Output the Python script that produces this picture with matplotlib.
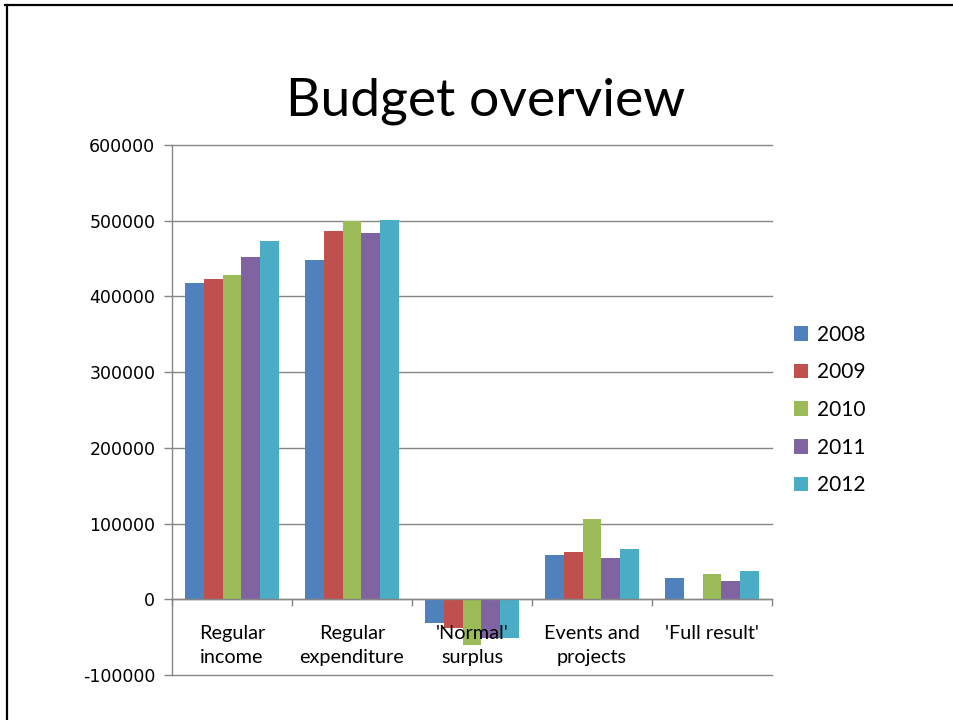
import numpy as np
import matplotlib
matplotlib.use("Agg")
from matplotlib import pyplot as plt
from matplotlib.lines import Line2D
from matplotlib.transforms import offset_copy

plt.rcParams["axes.unicode_minus"] = False

categories = ["Regular\nincome", "Regular\nexpenditure", "'Normal'\nsurplus",
              "Events and\nprojects", "'Full result'"]
years = ["2008", "2009", "2010", "2011", "2012"]
v2008 = [418000, 448000, -31000, 58000, 28000]
v2009 = [423000, 486000, -38000, 63000, 0]
v2010 = [428000, 500000, -60000, 106000, 34000]
v2011 = [452000, 484000, -51000, 55000, 24000]
v2012 = [473000, 501000, -51000, 66000, 38000]
series = [v2008, v2009, v2010, v2011, v2012]
colors = ["#4F81BD", "#C0504D", "#9BBB59", "#8064A2", "#4BACC6"]

fig = plt.figure(figsize=(9.54, 7.2), dpi=100)
ax = fig.add_axes([172 / 954, 1 - 675 / 720, 600 / 954, 530 / 720])

x = np.arange(len(categories))
w = 0.158
for i, (vals, c, lab) in enumerate(zip(series, colors, years)):
    ax.bar(x + (i - 2) * w, vals, width=w, color=c, label=lab, zorder=3)

ax.set_xlim(-0.5, len(categories) - 0.5)
ax.set_ylim(-100000, 600000)
ax.set_yticks(np.arange(-100000, 600001, 100000))
ax.yaxis.grid(True, color="#868686", linewidth=1.0, zorder=0)
for gl in ax.get_ygridlines():
    gl.set_clip_on(False)
ax.set_axisbelow(True)

for s in ["top", "right"]:
    ax.spines[s].set_visible(False)
ax.spines["bottom"].set_position(("data", 0))
for s in ["bottom", "left"]:
    ax.spines[s].set_color("#868686")
    ax.spines[s].set_linewidth(1.0)
    ax.spines[s].set_zorder(4)

ax.set_xticks(np.arange(-0.5, len(categories), 1.0))
ax.set_xticklabels([])
ax.tick_params(axis="x", which="major", direction="out", length=5,
               color="#868686", width=1.0)
ax.tick_params(axis="y", direction="out", length=6, color="#868686",
               width=1.0, labelsize=12.5, pad=6)

# category labels drawn on top of the bars, like the original
lab_tr = offset_copy(ax.transData, fig=fig, x=0, y=-26, units="dots")
for xi, cat in zip(x, categories):
    ax.text(xi, 0, cat, transform=lab_tr, ha="center", va="top",
            fontsize=14.3, family="Lato", linespacing=1.5, zorder=6,
            clip_on=False)

ax.legend(loc="center left", frameon=False,
          prop={"family": "Lato", "size": 15}, handlelength=0.7,
          handleheight=0.7, handletextpad=0.4, labelspacing=0.85)
leg = ax.get_legend()
leg.set_bbox_to_anchor((775 / 954, 1 - 410 / 720), transform=fig.transFigure)

fig.text(486 / 954, 1 - 101 / 720, "Budget overview", ha="center",
         va="center", fontsize=38.5, family="Lato")

# slide border
fig.add_artist(Line2D([5 / 954, 1], [1 - 5 / 720, 1 - 5 / 720],
                      transform=fig.transFigure, color="black", linewidth=1.6))
fig.add_artist(Line2D([7 / 954, 7 / 954], [0, 1 - 5 / 720],
                      transform=fig.transFigure, color="black", linewidth=1.6))

fig.savefig("out.png", dpi=100)
